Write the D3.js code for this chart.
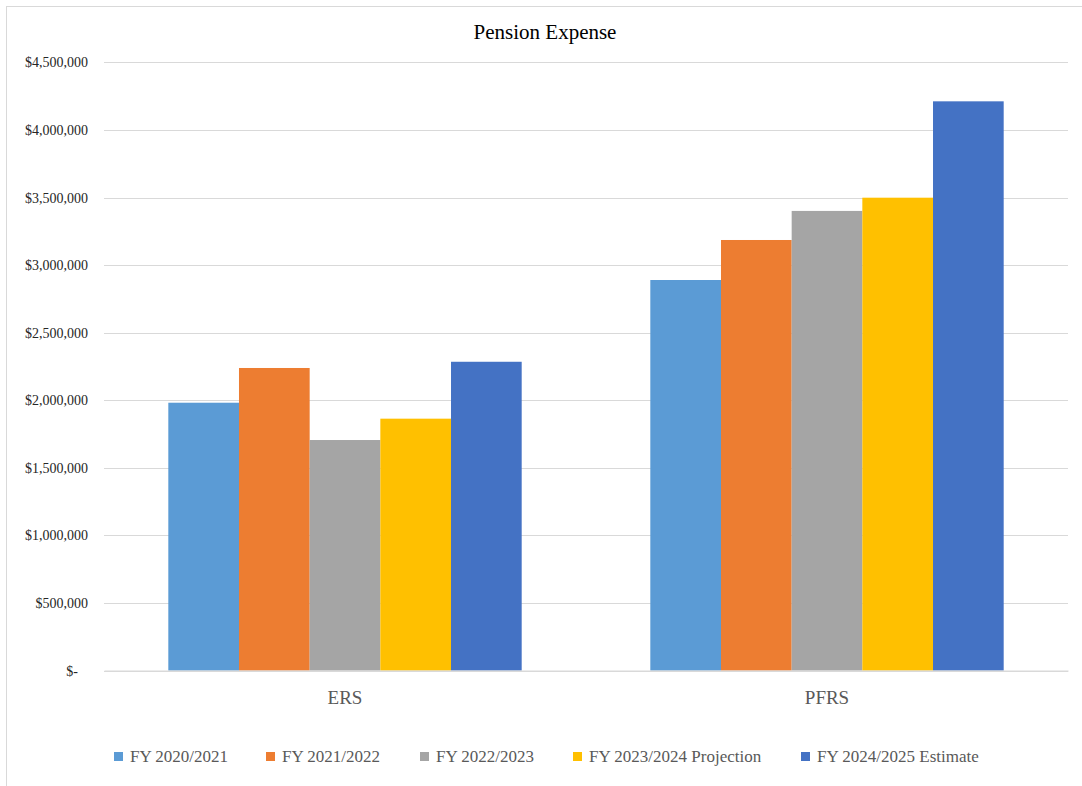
<!DOCTYPE html>
<html>
<head>
<meta charset="utf-8">
<script src="https://cdn.jsdelivr.net/npm/d3@7"></script>
<style>
  body { margin: 0; background: #fff; }
  text { font-family: "Liberation Serif", "Times New Roman", serif; }
</style>
</head>
<body>
<svg></svg>
<script>
// Size of the SVG
var width = 1082;
var height = 786;

// Data
var categories = ["ERS", "PFRS"];
var seriesNames = ["FY 2020/2021", "FY 2021/2022", "FY 2022/2023", "FY 2023/2024 Projection", "FY 2024/2025 Estimate"];
var ersValues = [1982000, 2239000, 1706000, 1864000, 2285000];
var pfrsValues = [2890000, 3186000, 3401000, 3499000, 4212000];
var colors = ["#5B9BD5", "#ED7D31", "#A5A5A5", "#FFC000", "#4472C4"];
var yTicks = [0, 500000, 1000000, 1500000, 2000000, 2500000, 3000000, 3500000, 4000000, 4500000];

var values = { "ERS": ersValues, "PFRS": pfrsValues };

var svg = d3.select("svg").attr("width", width).attr("height", height);

// chart border (left/top edge visible in the reference)
svg.append("rect")
    .attr("x", 6.5).attr("y", 6.5)
    .attr("width", width + 10).attr("height", height + 10)
    .attr("fill", "none").attr("stroke", "#D9D9D9");

// Plot area
var plotLeft = 104, plotRight = 1068, plotTop = 62.4, plotBottom = 670.6;

// Scales
var xScale = d3.scaleBand().domain(categories).range([plotLeft, plotRight]);
var xInner = d3.scaleBand().domain(seriesNames)
    .range([0, xScale.bandwidth()]).paddingInner(0).paddingOuter(0.91);
var yScale = d3.scaleLinear().domain([0, 4500000]).range([plotBottom, plotTop]);

// Gridlines
svg.append("g").selectAll("line")
    .data(yTicks)
    .enter().append("line")
    .attr("x1", plotLeft).attr("x2", plotRight)
    .attr("y1", d => Math.round(yScale(d)) + 0.5)
    .attr("y2", d => Math.round(yScale(d)) + 0.5)
    .attr("stroke", "#D9D9D9").attr("stroke-width", 1.2);

// Y axis labels
var fmt = d3.format(",");
var yAxis = d3.axisLeft(yScale).tickValues(yTicks).tickSize(0).tickPadding(16)
    .tickFormat(d => d === 0 ? "$-" : "$" + fmt(d));
var gy = svg.append("g").attr("transform", "translate(" + plotLeft + ",0)").call(yAxis);
gy.select(".domain").remove();
gy.selectAll("text").attr("font-size", 14).attr("fill", "#262626")
    .style("font-family", "Liberation Serif, serif");
gy.selectAll(".tick").filter(d => d === 0).select("text").attr("dx", -10);

// Bars
var groups = svg.append("g").selectAll("g")
    .data(categories)
    .enter().append("g")
    .attr("transform", d => "translate(" + xScale(d) + ",0)");

groups.selectAll("rect")
    .data(c => values[c].map((v, i) => ({ name: seriesNames[i], value: v, i: i })))
    .enter().append("rect")
    .attr("x", d => xInner(d.name))
    .attr("width", xInner.bandwidth())
    .attr("y", d => yScale(d.value))
    .attr("height", d => plotBottom - yScale(d.value))
    .attr("fill", d => colors[d.i]);

// X axis
var xAxis = d3.axisBottom(xScale).tickSize(0).tickPadding(20);
var gx = svg.append("g").attr("transform", "translate(0," + plotBottom + ")").call(xAxis);
gx.select(".domain").attr("stroke", "#D9D9D9").attr("stroke-width", 1.2);
gx.selectAll("text").attr("font-size", 19).attr("fill", "#595959")
    .style("font-family", "Liberation Serif, serif");

// Title
svg.append("text")
    .attr("x", 545).attr("y", 39)
    .attr("text-anchor", "middle")
    .attr("font-size", 21).attr("fill", "#000")
    .text("Pension Expense");

// Legend
var legendX = [114, 266, 420, 573, 801];
var legend = svg.append("g").selectAll("g")
    .data(seriesNames)
    .enter().append("g")
    .attr("transform", (d, i) => "translate(" + legendX[i] + ",752)");

legend.append("rect")
    .attr("width", 9).attr("height", 9)
    .attr("fill", (d, i) => colors[i]);

legend.append("text")
    .attr("x", 16).attr("y", 10)
    .attr("font-size", 17).attr("fill", "#595959")
    .text(d => d);
</script>
</body>
</html>
